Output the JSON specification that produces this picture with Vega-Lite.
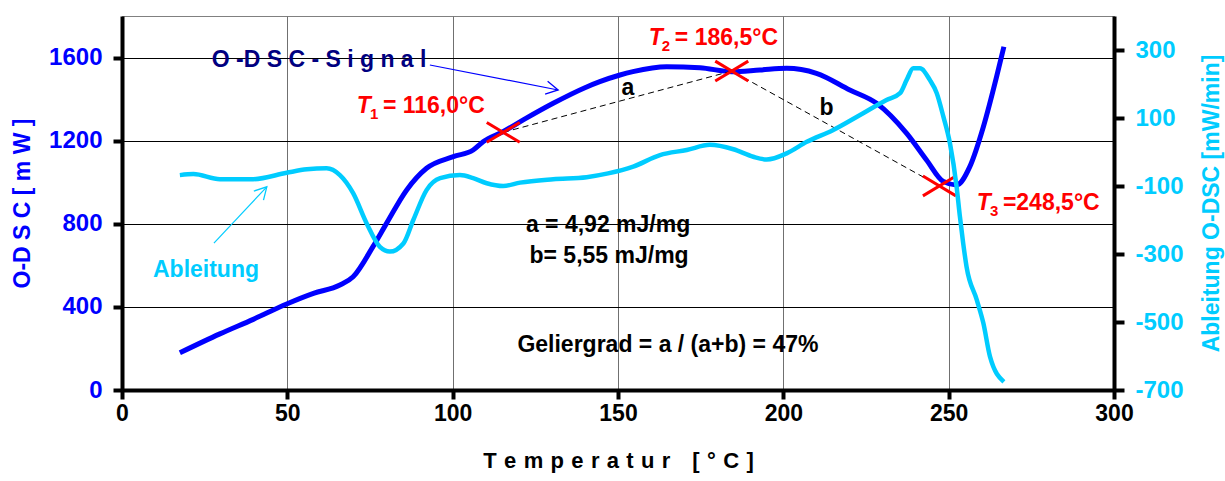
{
  "$schema": "https://vega.github.io/schema/vega-lite/v6.json",
  "width": 992,
  "height": 374,
  "autosize": {"type": "none"},
  "padding": {"left": 122, "top": 16, "right": 111, "bottom": 91},
  "background": "white",
  "config": {
    "view": {"stroke": "#808080", "strokeWidth": 1},
    "font": "Liberation Sans"
  },
  "datasets": {
    "odsc": [
      {"t": 17.5, "v": 179}, {"t": 29.6, "v": 270}, {"t": 39.7, "v": 340}, {"t": 49.8, "v": 414},
      {"t": 57.9, "v": 465}, {"t": 65.9, "v": 505}, {"t": 69.9, "v": 545}, {"t": 75.9, "v": 690},
      {"t": 80, "v": 802}, {"t": 86.1, "v": 963}, {"t": 92.1, "v": 1067}, {"t": 100.2, "v": 1123},
      {"t": 106.2, "v": 1155}, {"t": 109.2, "v": 1195}, {"t": 115.2, "v": 1243}, {"t": 122, "v": 1306},
      {"t": 130.4, "v": 1380}, {"t": 140, "v": 1455}, {"t": 144.5, "v": 1484}, {"t": 150.6, "v": 1516},
      {"t": 154.5, "v": 1532}, {"t": 164.7, "v": 1556}, {"t": 174.8, "v": 1551}, {"t": 184.4, "v": 1532},
      {"t": 192.9, "v": 1540}, {"t": 201, "v": 1548}, {"t": 210, "v": 1524}, {"t": 220.1, "v": 1444},
      {"t": 228.2, "v": 1380}, {"t": 237.3, "v": 1235}, {"t": 243.3, "v": 1107}, {"t": 248.4, "v": 1003},
      {"t": 252.4, "v": 987}, {"t": 256.4, "v": 1075}, {"t": 260.5, "v": 1267}, {"t": 264.5, "v": 1508},
      {"t": 266.7, "v": 1652}
    ],
    "abl": [
      {"t": 17.5, "v": -68}, {"t": 21.6, "v": -65}, {"t": 29.6, "v": -80}, {"t": 39.7, "v": -80},
      {"t": 49.8, "v": -61}, {"t": 55.9, "v": -51}, {"t": 61.9, "v": -48}, {"t": 65.9, "v": -68},
      {"t": 69.9, "v": -121}, {"t": 74, "v": -210}, {"t": 78, "v": -279}, {"t": 81, "v": -293},
      {"t": 85.1, "v": -269}, {"t": 88.1, "v": -200}, {"t": 92.1, "v": -112}, {"t": 96.2, "v": -77},
      {"t": 102.2, "v": -68}, {"t": 106.2, "v": -77}, {"t": 110.3, "v": -92}, {"t": 115.3, "v": -100},
      {"t": 120.4, "v": -90}, {"t": 130.4, "v": -80}, {"t": 140.5, "v": -74}, {"t": 147, "v": -63},
      {"t": 154.6, "v": -43}, {"t": 162.7, "v": -9}, {"t": 170.8, "v": 6}, {"t": 177.8, "v": 21},
      {"t": 184.9, "v": 8}, {"t": 190.9, "v": -14}, {"t": 195, "v": -22}, {"t": 201, "v": -4},
      {"t": 207.1, "v": 30}, {"t": 215.1, "v": 65}, {"t": 223.2, "v": 109}, {"t": 231.2, "v": 153},
      {"t": 235.3, "v": 173}, {"t": 237.3, "v": 212}, {"t": 239.3, "v": 246}, {"t": 241.3, "v": 246},
      {"t": 244.3, "v": 212}, {"t": 246.4, "v": 173}, {"t": 248.4, "v": 104}, {"t": 250.4, "v": 25},
      {"t": 252.4, "v": -102}, {"t": 253.4, "v": -190}, {"t": 254.4, "v": -269}, {"t": 255.4, "v": -337},
      {"t": 258.5, "v": -435}, {"t": 260.5, "v": -504}, {"t": 262.5, "v": -602}, {"t": 266.7, "v": -676}
    ],
    "markers": [
      {"t": 115.3, "v": 1240}, {"t": 184.4, "v": 1535}, {"t": 247.2, "v": 982}
    ],
    "sigArrow": [
      {"t": 93.1, "v": 1564, "end": "tail"}, {"t": 131.9, "v": 1444, "end": "head"}
    ],
    "ablArrow": [
      {"t": 27.8, "v": 707, "end": "tail"}, {"t": 43.8, "v": 978, "end": "head"}
    ],
    "blackNotes": [
      {"t": 153, "v": 1420, "text": "a"},
      {"t": 213.1, "v": 1324, "text": "b"},
      {"t": 147, "v": 762, "text": "a = 4,92 mJ/mg"},
      {"t": 147.3, "v": 610, "text": "b= 5,55 mJ/mg"},
      {"t": 165.1, "v": 184, "text": "Geliergrad = a / (a+b) = 47%"}
    ],
    "sigLabel": [{"t": 59.6, "v": 1556, "text": "O -D S C - S i g n a l"}],
    "ablLabel": [{"t": 25.4, "v": 545, "text": "Ableitung"}],
    "tLabels": [
      {"t": 78.9, "v": 1333, "sub": "1", "val": "= 116,0°C"},
      {"t": 167.2, "v": 1660, "sub": "2", "val": "= 186,5°C"},
      {"t": 266.4, "v": 866, "sub": "3", "val": "=248,5°C"}
    ]
  },
  "encoding": {
    "x": {
      "field": "t", "type": "quantitative",
      "scale": {"domain": [0, 300], "nice": false},
      "axis": {
        "values": [0, 50, 100, 150, 200, 250, 300],
        "labelExpr": "'' + datum.value",
        "grid": true, "gridColor": "#707070", "gridWidth": 1,
        "domainColor": "black", "domainWidth": 4,
        "tickColor": "black", "tickWidth": 4, "tickSize": 9,
        "labelFont": "Liberation Sans", "labelFontSize": 23, "labelFontWeight": "bold",
        "labelColor": "black", "labelPadding": 3, "labelFlush": false, "labelOverlap": false,
        "title": "T\u2004e\u2004m\u2004p\u2004e\u2004r\u2004a\u2004t\u2004u\u2004r\u2004\u2004\u2004[\u2004°\u2004C\u2004]",
        "titleFont": "Liberation Sans", "titleFontSize": 22, "titleFontWeight": "bold",
        "titleColor": "black", "titlePadding": 25
      }
    }
  },
  "layer": [
    {
      "encoding": {
        "y": {
          "field": "v", "type": "quantitative",
          "scale": {"domain": [0, 1800], "nice": false},
          "axis": {
            "orient": "left",
            "values": [0, 400, 800, 1200, 1600],
            "labelExpr": "'' + datum.value",
            "grid": true, "gridColor": "black", "gridWidth": 1,
            "domainColor": "black", "domainWidth": 4,
            "tickColor": "black", "tickWidth": 4, "tickSize": 9,
            "labelFont": "Liberation Sans", "labelFontSize": 24, "labelFontWeight": "bold",
            "labelColor": "#0000FF", "labelPadding": 11,
            "title": "O-D S C [ m W ]",
            "titleFont": "Liberation Sans", "titleFontSize": 23, "titleFontWeight": "bold",
            "titleColor": "#0000FF", "titlePadding": 14
          }
        }
      },
      "layer": [
        {"data": {"name": "odsc"}, "mark": {"type": "line", "color": "#0000FF", "strokeWidth": 5, "interpolate": "monotone"}},
        {"data": {"name": "markers"}, "mark": {"type": "line", "color": "black", "strokeWidth": 1, "strokeDash": [6, 4]}},
        {"data": {"name": "sigArrow"}, "mark": {"type": "line", "color": "#0000FF", "strokeWidth": 1.2}},
        {"data": {"name": "sigArrow"}, "transform": [{"filter": "datum.end == 'head'"}],
         "mark": {"type": "point", "shape": "M-1,-0.55L0,0L-1,0.55", "size": 576, "angle": 11, "filled": false, "color": "#0000FF", "strokeWidth": 1.3, "opacity": 1}},
        {"data": {"name": "ablArrow"}, "mark": {"type": "line", "color": "#00CCFF", "strokeWidth": 1.2}},
        {"data": {"name": "ablArrow"}, "transform": [{"filter": "datum.end == 'head'"}],
         "mark": {"type": "point", "shape": "M-1,-0.55L0,0L-1,0.55", "size": 576, "angle": 313, "filled": false, "color": "#00CCFF", "strokeWidth": 1.3, "opacity": 1}},
        {"data": {"name": "markers"},
         "mark": {"type": "point", "shape": "M-1,-0.6L1,0.6M-1,0.6L1,-0.6", "size": 1089, "filled": false, "color": "#FF0000", "strokeWidth": 3, "opacity": 1}},
        {"data": {"name": "blackNotes"},
         "mark": {"type": "text", "align": "center", "baseline": "alphabetic", "font": "Liberation Sans", "fontSize": 23, "fontWeight": "bold", "color": "black"},
         "encoding": {"text": {"field": "text"}}},
        {"data": {"name": "sigLabel"},
         "mark": {"type": "text", "align": "center", "baseline": "alphabetic", "font": "Liberation Sans", "fontSize": 23, "fontWeight": "bold", "color": "#000080"},
         "encoding": {"text": {"field": "text"}}},
        {"data": {"name": "ablLabel"},
         "mark": {"type": "text", "align": "center", "baseline": "alphabetic", "font": "Liberation Sans", "fontSize": 23, "fontWeight": "bold", "color": "#00CCFF"},
         "encoding": {"text": {"field": "text"}}},
        {"data": {"name": "tLabels"},
         "mark": {"type": "text", "text": "T", "align": "right", "dx": -12, "baseline": "alphabetic", "font": "Liberation Sans", "fontSize": 23, "fontWeight": "bold", "fontStyle": "italic", "color": "#FF0000"}},
        {"data": {"name": "tLabels"},
         "mark": {"type": "text", "align": "left", "dx": -13, "dy": 6, "baseline": "alphabetic", "font": "Liberation Sans", "fontSize": 15, "fontWeight": "bold", "color": "#FF0000"},
         "encoding": {"text": {"field": "sub"}}},
        {"data": {"name": "tLabels"},
         "mark": {"type": "text", "align": "left", "baseline": "alphabetic", "font": "Liberation Sans", "fontSize": 23, "fontWeight": "bold", "color": "#FF0000"},
         "encoding": {"text": {"field": "val"}}}
      ]
    },
    {
      "data": {"name": "abl"},
      "mark": {"type": "line", "color": "#00CCFF", "strokeWidth": 4.5, "interpolate": "monotone"},
      "encoding": {
        "y": {
          "field": "v", "type": "quantitative",
          "scale": {"domain": [-700, 400], "nice": false, "zero": false},
          "axis": {
            "orient": "right",
            "values": [-700, -500, -300, -100, 100, 300],
            "labelExpr": "'' + datum.value",
            "grid": false,
            "domainColor": "black", "domainWidth": 4,
            "tickColor": "black", "tickWidth": 4, "tickSize": 10,
            "labelFont": "Liberation Sans", "labelFontSize": 24, "labelFontWeight": "bold",
            "labelColor": "#00CCFF", "labelPadding": 11,
            "title": "Ableitung O-DSC [mW/min]",
            "titleFont": "Liberation Sans", "titleFontSize": 23, "titleFontWeight": "bold",
            "titleColor": "#00CCFF", "titleAngle": 270, "titlePadding": 40
          }
        }
      }
    }
  ],
  "resolve": {"scale": {"y": "independent"}, "axis": {"y": "independent"}}
}
